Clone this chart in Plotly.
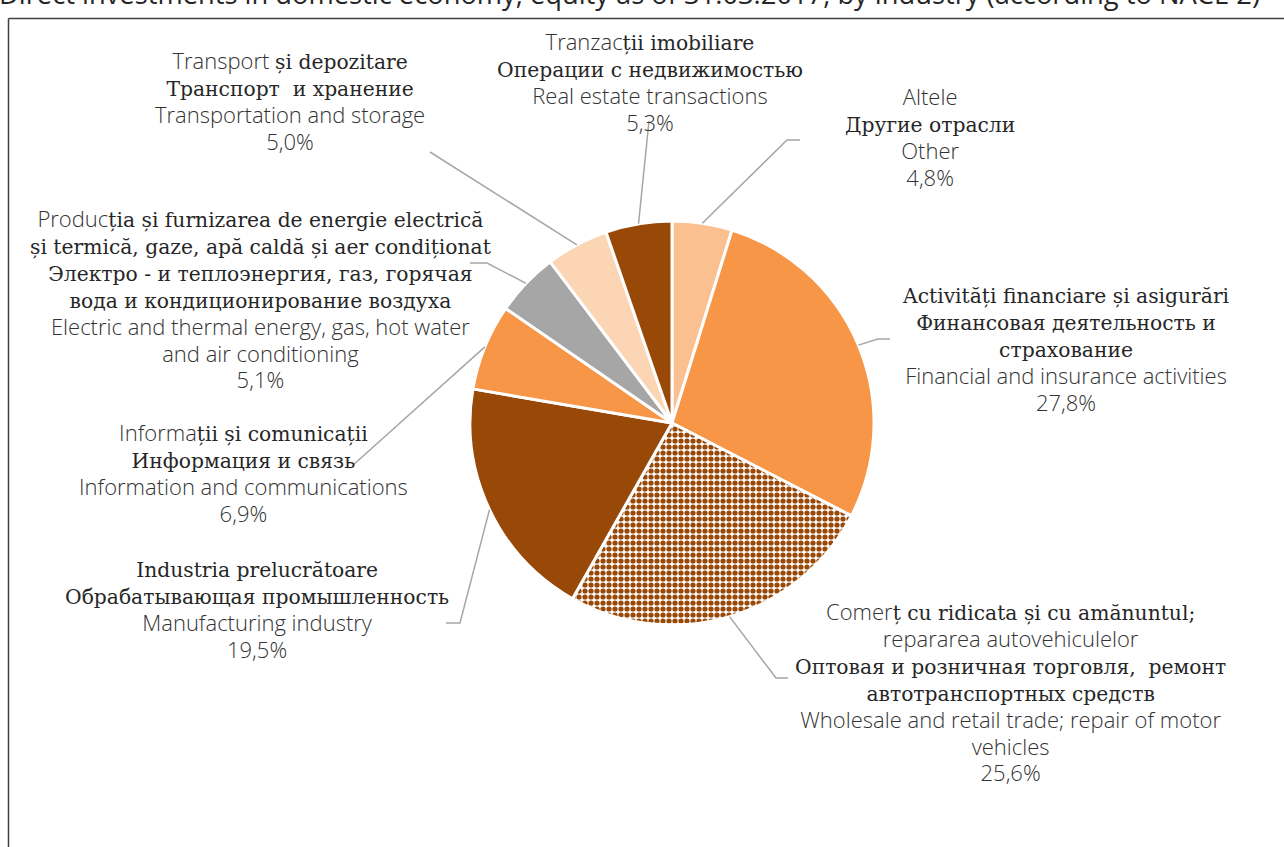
import math
import plotly.graph_objects as go

# ---------------- data ----------------
categories = [
    "Other", "Financial and insurance activities",
    "Wholesale and retail trade; repair of motor vehicles",
    "Manufacturing industry", "Information and communications",
    "Electric and thermal energy, gas, hot water and air conditioning",
    "Transportation and storage", "Real estate transactions",
]
values = [4.8, 27.8, 25.6, 19.5, 6.9, 5.1, 5.0, 5.3]
pct_labels = ["4,8%", "27,8%", "25,6%", "19,5%", "6,9%", "5,1%", "5,0%", "5,3%"]
slice_colors = ["#FAC090", "#F79646", "#984807", "#984807",
                "#F79646", "#A6A6A6", "#FCD5B5", "#984807"]
pattern_shapes = ["", "", ".", "", "", "", "", ""]

title_text = ("Direct investments in domestic economy, equity as of 31.03.2017, "
              "by industry (according to NACE 2)")

# label text lines: (font kind, text) ; S = serif, A = sans, list = mixed fonts
label_lines = [
    [("A", "Altele"), ("S", "Другие отрасли"), ("A", "Other"), ("A", pct_labels[0])],
    [("S", "Activități financiare și asigurări"), ("S", "Финансовая деятельность и"),
     ("S", "страхование"), ("A", "Financial and insurance activities"), ("A", pct_labels[1])],
    [([("A", "Comer"), ("S", "ț cu ridicata și cu amănuntul;")]),
     ("A", "repararea autovehiculelor"),
     ("S", "Оптовая и розничная торговля,  ремонт"), ("S", "автотранспортных средств"),
     ("A", "Wholesale and retail trade; repair of motor"), ("A", "vehicles"), ("A", pct_labels[2])],
    [("S", "Industria prelucrătoare"), ("S", "Обрабатывающая промышленность"),
     ("A", "Manufacturing industry"), ("A", pct_labels[3])],
    [([("A", "Informa"), ("S", "ții și comunicații")]), ("S", "Информация и связь"),
     ("A", "Information and communications"), ("A", pct_labels[4])],
    [([("A", "Produc"), ("S", "ția și furnizarea de energie electrică")]),
     ("S", "și termică, gaze, apă caldă și aer condiționat"),
     ("S", "Электро - и теплоэнергия, газ, горячая"), ("S", "вода и кондиционирование воздуха"),
     ("A", "Electric and thermal energy, gas, hot water"), ("A", "and air conditioning"),
     ("A", pct_labels[5])],
    [([("A", "Transport "), ("S", "și depozitare")]), ("S", "Транспорт  и хранение"),
     ("A", "Transportation and storage"), ("A", pct_labels[6])],
    [([("A", "Tranzac"), ("S", "ții imobiliare")]), ("S", "Операции с недвижимостью"),
     ("A", "Real estate transactions"), ("A", pct_labels[7])],
]

# ---------------- layout (pixels) ----------------
W, H = 1284, 847
CX, CY, R = 672, 423, 202
label_pos = [(930, 96), (1066, 297), (1010, 611), (257, 571),
             (243, 432), (260, 218), (290, 60), (650, 41)]
BASE_SIZE = 20.7          # gives 1.3 * 20.7 = 26.9 px line spacing
LINE_STEP = 1.3 * BASE_SIZE
leader_elbow = [(787, 140), (878, 339), (776, 678), (460, 623),
                (352, 466), (487, 263), (430, 152), (649, 121)]
leader_end = [(800, 140), (890, 339), (788, 678), (446, 623),
              (352, 466), (470, 263), (430, 152), (649, 121)]

SERIF = "DejaVu Serif"
SANS = "Open Sans"
SERIF_COLOR = "#262626"
SANS_COLOR = "#333333"
SERIF_SIZE = 20.3
SANS_SIZE = 22


def px(x):
    return x / W


def py(y):
    return 1 - y / H


fig = go.Figure()
fig.add_trace(go.Pie(
    labels=categories, values=values, sort=False, direction="clockwise",
    rotation=0, textinfo="none", hoverinfo="label+percent",
    marker=dict(colors=slice_colors, line=dict(color="white", width=3),
                pattern=dict(shape=pattern_shapes, bgcolor="white",
                             fillmode="replace", size=6, solidity=0.6)),
    domain=dict(x=[px(CX - R), px(CX + R)], y=[py(CY + R), py(CY - R)]),
    showlegend=False,
))

annotations = []
shapes = []


def span(kind, text):
    if kind == "S":
        return (f'<span style="font-family:{SERIF};color:{SERIF_COLOR};'
                f'font-size:{SERIF_SIZE}px">{text}</span>')
    return (f'<span style="font-family:{SANS};color:{SANS_COLOR};'
            f'font-size:{SANS_SIZE}px;font-weight:300">{text}</span>')


for i, lines in enumerate(label_lines):
    lx, ly = label_pos[i]
    parts = []
    for item in lines:
        if isinstance(item, list):
            parts.append("".join(span(k, t) for k, t in item))
        else:
            parts.append(span(item[0], item[1]))
    cy = ly + (len(lines) - 1) * LINE_STEP / 2
    annotations.append(dict(
        x=px(lx), y=py(cy), xref="paper", yref="paper",
        text="<br>".join(parts), showarrow=False, align="center",
        xanchor="center", yanchor="middle",
        font=dict(family=SANS, size=BASE_SIZE, color=SANS_COLOR),
    ))

# leader lines: start at the mid-angle of each slice on the pie edge
total = sum(values)
cum = 0.0
for i, v in enumerate(values):
    mid = (cum + v / 2) / total * 2 * math.pi
    cum += v
    sx = CX + R * math.sin(mid)
    sy = CY - R * math.cos(mid)
    ex, ey = leader_elbow[i]
    fx, fy = leader_end[i]
    path = f"M {px(sx)} {py(sy)} L {px(ex)} {py(ey)} L {px(fx)} {py(fy)}"
    shapes.append(dict(type="path", xref="paper", yref="paper", path=path,
                       line=dict(color="#A6A6A6", width=1.5)))

# chart area border (left and top edges visible)
shapes.append(dict(type="line", xref="paper", yref="paper",
                   x0=px(8.5), y0=py(18.5), x1=px(8.5), y1=py(H + 5),
                   line=dict(color="#404040", width=1.5)))
shapes.append(dict(type="line", xref="paper", yref="paper",
                   x0=px(8.5), y0=py(18.5), x1=px(W + 5), y1=py(18.5),
                   line=dict(color="#404040", width=1.5)))

# title, mostly cut off at the top of the picture
annotations.append(dict(
    x=px(-3), y=py(14), xref="paper", yref="paper", text=title_text,
    showarrow=False, xanchor="left", yanchor="bottom",
    font=dict(family="Open Sans", size=27.3, color="#262626"),
))

fig.update_layout(
    width=W, height=H, margin=dict(l=0, r=0, t=0, b=0),
    paper_bgcolor="white", plot_bgcolor="white",
    annotations=annotations, shapes=shapes,
)

fig.write_html("out.html", config={"displayModeBar": False},
               post_script="document.body.style.margin='0';"
                           "document.body.style.overflow='hidden';")
